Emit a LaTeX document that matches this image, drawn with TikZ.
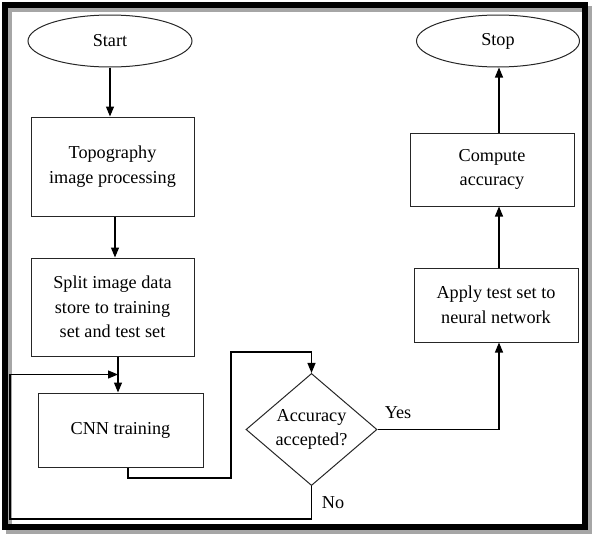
\documentclass[tikz,border=0pt]{standalone}
\usepackage{fontspec}
\setmainfont{Liberation Serif}
\usetikzlibrary{shapes.geometric,arrows.meta,calc}
\begin{document}
\begin{tikzpicture}[x=1pt,y=-1pt,
  txt/.style={font=\fontsize{18.2}{24.5}\selectfont},
  box/.style={txt, draw=black!85, line width=1pt, align=center, inner sep=0pt},
  term/.style={txt, draw=black!85, ellipse, line width=1pt, inner sep=0pt},
  dia/.style={txt, draw=black!85, diamond, line width=1pt, inner sep=0pt, align=center},
  arr/.style={line width=1.2pt, -{Triangle[length=10pt,width=8pt]}},
  lbl/.style={txt, inner sep=0pt}]
\useasboundingbox (0,0) rectangle (595,541);
% frame with shadow
\draw[line width=6pt, black!35] (9,9) rectangle (589,531);
\draw[line width=6pt] (5,5) rectangle (585,527);
% nodes
\node[term, minimum width=164, minimum height=52] (start) at (110,41) {Start};
\node[term, minimum width=163, minimum height=52] (stop) at (498,41) {Stop};
\node[box, minimum width=163, minimum height=99] (topo) at (112.5,166.5) {Topography\\image processing};
\node[box, minimum width=163, minimum height=98] (split) at (112.5,307) {Split image data\\store to training\\set and test set};
\node[box, minimum width=165, minimum height=74] (cnn) at (120.5,430) {CNN training};
\node[dia, minimum width=131, minimum height=109] (dec) at (311.5,429.5) {Accuracy\\accepted?};
\node[box, minimum width=164, minimum height=74] (apply) at (496,305) {Apply test set to\\neural network};
\node[box, minimum width=164, minimum height=73] (comp) at (492,169.5) {Compute\\accuracy};
\node[lbl] (yes) at (398,413) {Yes};
\node[lbl] (no) at (333,503) {No};
% helper coordinates
\coordinate (j) at ($(split.south)+(5.5,18)$);
\coordinate (nl) at (10,519);
\coordinate (c1) at (231,478);
\coordinate (c2) at (231,352);
\coordinate (ca) at ($(comp.north)+(7,0)$);
% connectors
\draw[arr] (start.south) -- (start.south |- topo.north);
\draw[arr] ($(topo.south)+(2.5,0)$) -- ($(split.north)+(2.5,0)$);
\draw[arr] ($(split.south)+(5.5,0)$) -- ($(cnn.north)+(-2.5,0)$);
\draw[arr] (dec.south) |- (nl) |- (j);
\draw[arr] ($(cnn.south)+(7.5,0)$) |- (c1) -- (c2) -| (dec.north);
\draw[arr] (dec.east) -| ($(apply.south)+(3,0)$);
\draw[arr] ($(apply.north)+(3,0)$) -- ($(comp.south)+(7,0)$);
\draw[arr] (ca) -- (ca |- stop.south);
\end{tikzpicture}
\end{document}
